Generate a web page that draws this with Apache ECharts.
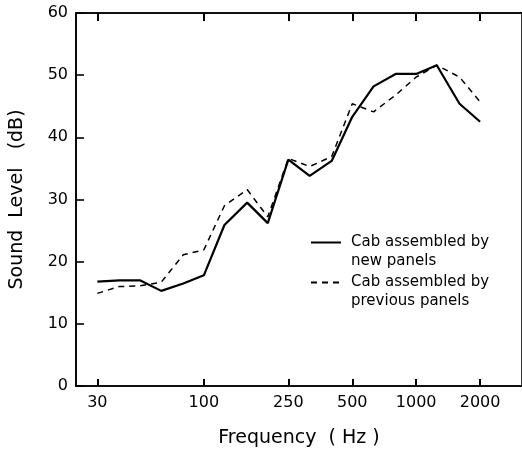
<!DOCTYPE html>
<html>
<head>
<meta charset="utf-8">
<script src="https://cdn.jsdelivr.net/npm/echarts@6/dist/echarts.min.js"></script>
<style>
html,body{margin:0;padding:0;background:#fff;}
#chart{width:522px;height:460px;}
</style>
</head>
<body>
<div id="chart"></div>
<script>
// 1/3-octave band centre frequencies (Hz)
var frequencies = [31.5, 40, 50, 63, 80, 100, 125, 160, 200, 250, 315, 400, 500, 630, 800, 1000, 1250, 1600, 2000];
// Cab assembled by new panels (dB)
var newPanels = [16.8, 17.0, 17.0, 15.3, 16.5, 17.8, 25.9, 29.5, 26.2, 36.4, 33.8, 36.2, 43.3, 48.2, 50.2, 50.2, 51.6, 45.4, 42.5];
// Cab assembled by previous panels (dB)
var previousPanels = [14.9, 16.0, 16.1, 16.7, 21.1, 21.9, 29.0, 31.6, 27.2, 36.6, 35.3, 36.9, 45.4, 44.1, 46.8, 49.7, 51.6, 49.7, 45.7];
// Axis ticks
var xTickValues = [31.5, 100, 250, 500, 1000, 2000];
var xTickLabels = ['30', '100', '250', '500', '1000', '2000'];
var seriesNames = ['\nCab assembled by\nnew panels', '\nCab assembled by\nprevious panels'];

var FONT = 'DejaVu Sans';

function pairs(xs, ys) {
  return xs.map(function (x, i) { return [x, ys[i]]; });
}
function xLabel(v) {
  var best = 0, bd = Infinity;
  for (var i = 0; i < xTickValues.length; i++) {
    var d = Math.abs(Math.log(v) - Math.log(xTickValues[i]));
    if (d < bd) { bd = d; best = i; }
  }
  return xTickLabels[best];
}
function axisLine() { return { show: true, onZero: false, lineStyle: { color: '#000', width: 1.6 } }; }
function legendText() { return { fontFamily: FONT, fontSize: 15, color: '#000', lineHeight: 19, padding: [0, 0, 0, 5] }; }
function legendItem() { return { color: 'rgba(0,0,0,0)', borderWidth: 0, opacity: 0 }; }
function hiddenSplit() { return { lineStyle: { color: 'rgba(0,0,0,0)' } }; }

var chart = echarts.init(document.getElementById('chart'), null, { renderer: 'canvas' });
chart.setOption({
  backgroundColor: '#fff',
  animation: false,
  grid: { left: 75, right: 0, top: 13, bottom: 74, show: true, borderColor: '#000', borderWidth: 1.6 },
  legend: [
    {
      data: [seriesNames[0]],
      left: 310, top: 214, padding: 0,
      itemWidth: 30, itemHeight: 10,
      itemStyle: legendItem(),
      textStyle: legendText()
    },
    {
      data: [seriesNames[1]],
      left: 310, top: 254, padding: 0,
      itemWidth: 30, itemHeight: 10,
      itemStyle: legendItem(),
      textStyle: legendText()
    }
  ],
  xAxis: [
    {
      type: 'log', min: 25, max: 3150, position: 'bottom',
      name: 'Frequency  ( Hz )', nameLocation: 'middle', nameGap: 43,
      nameTextStyle: { fontFamily: FONT, fontSize: 19, color: '#000' },
      axisLine: axisLine(),
      axisTick: { show: true, inside: true, length: 7, customValues: xTickValues, lineStyle: { color: '#000', width: 2 } },
      axisLabel: { show: true, customValues: xTickValues, formatter: xLabel, margin: 9, fontFamily: FONT, fontSize: 16, color: '#000' },
      splitLine: hiddenSplit()
    },
    {
      type: 'log', min: 25, max: 3150, position: 'top',
      axisLine: axisLine(),
      axisTick: { show: true, inside: true, length: 8, customValues: xTickValues, lineStyle: { color: '#000', width: 2 } },
      axisLabel: { show: false },
      splitLine: hiddenSplit()
    }
  ],
  yAxis: [
    {
      type: 'value', min: 0, max: 60, interval: 10,
      name: 'Sound  Level   (dB)', nameLocation: 'middle', nameGap: 49,
      nameTextStyle: { fontFamily: FONT, fontSize: 19, color: '#000' },
      axisLine: axisLine(),
      axisTick: { show: true, inside: true, length: 8, lineStyle: { color: '#000', width: 1.6 } },
      axisLabel: { margin: 8, fontFamily: FONT, fontSize: 16, color: '#000' },
      splitLine: hiddenSplit()
    }
  ],
  series: [
    {
      name: seriesNames[0], type: 'line', xAxisIndex: 0, yAxisIndex: 0,
      data: pairs(frequencies, newPanels),
      symbol: 'none', smooth: false,
      lineStyle: { color: '#000', width: 2.2, type: 'solid' },
      itemStyle: { color: '#000' }
    },
    {
      name: seriesNames[1], type: 'line', xAxisIndex: 1, yAxisIndex: 0,
      data: pairs(frequencies, previousPanels),
      symbol: 'none', smooth: false,
      lineStyle: { color: '#000', width: 1.5, type: [6, 5] },
      itemStyle: { color: '#000' }
    }
  ]
});
</script>
</body>
</html>
